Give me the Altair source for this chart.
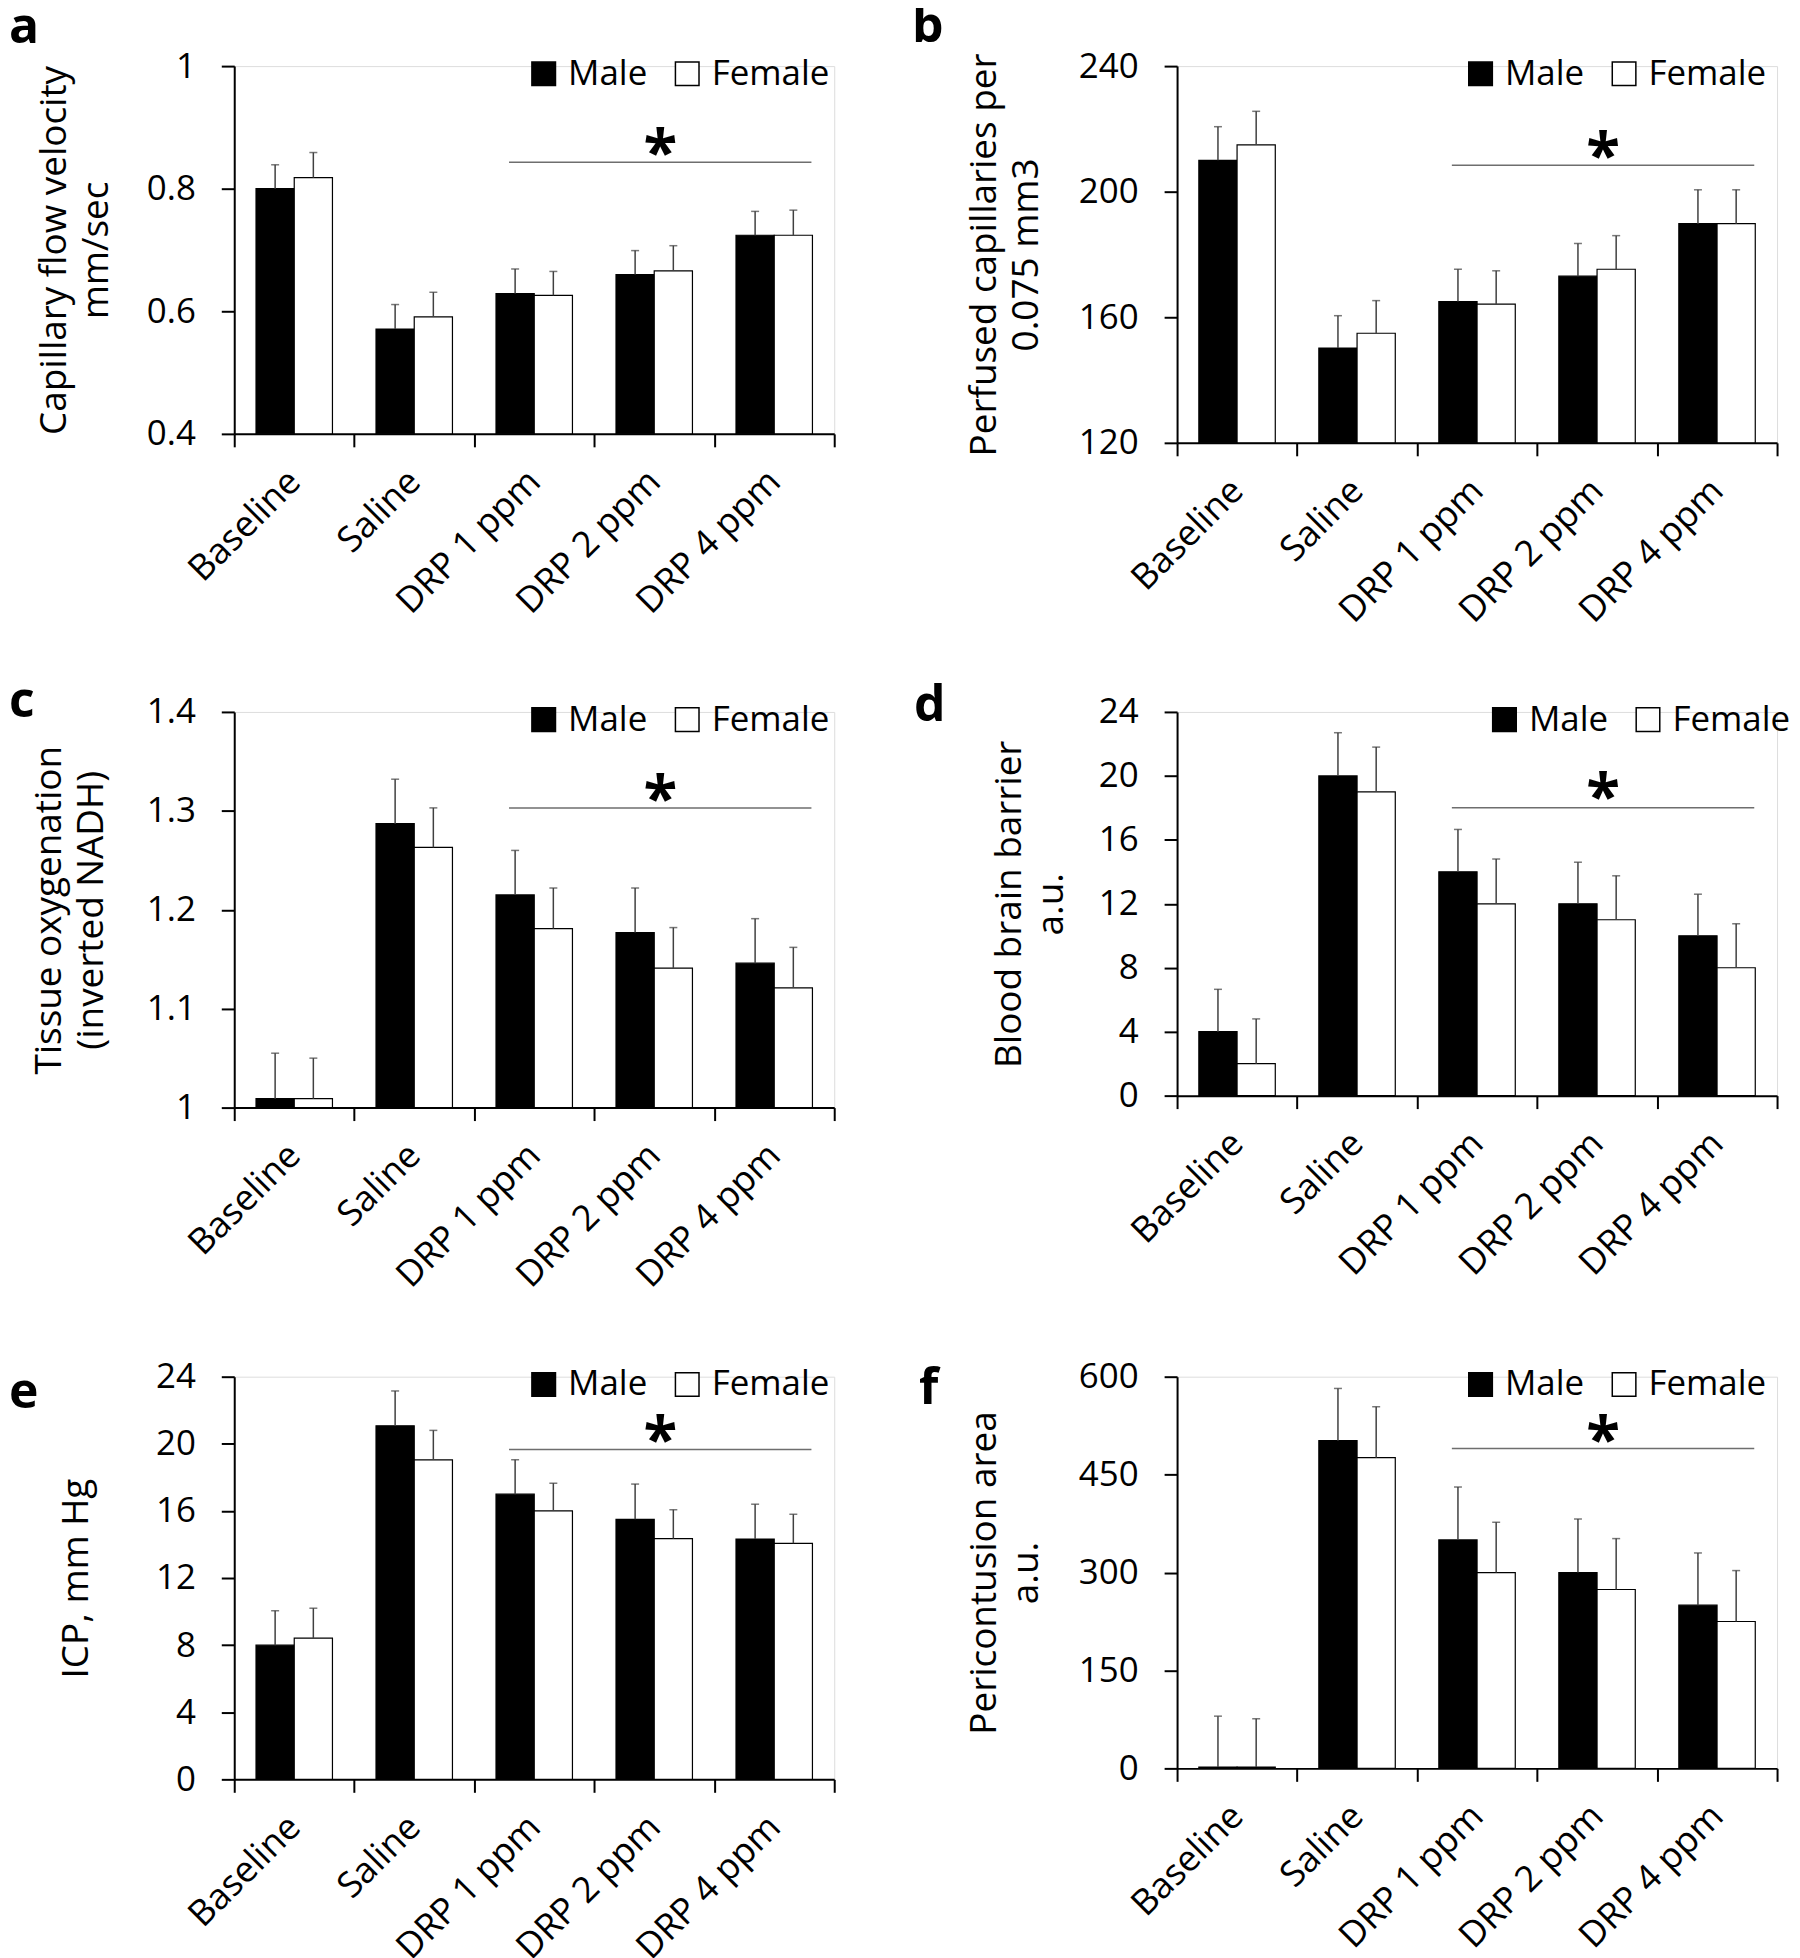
import altair as alt
import pandas as pd

FONT = "Open Sans"

categories = ["Baseline", "Saline", "DRP 1 ppm", "DRP 2 ppm", "DRP 4 ppm"]
sexes = ["Male", "Female"]

# Panel a: capillary flow velocity (mm/sec)
a_male = [0.800, 0.571, 0.629, 0.660, 0.724]
a_female = [0.818, 0.591, 0.626, 0.666, 0.724]
a_male_err = [0.039, 0.040, 0.040, 0.039, 0.039]
a_female_err = [0.041, 0.040, 0.039, 0.041, 0.041]

# Panel b: perfused capillaries per 0.075 mm3
b_male = [210.0, 150.2, 165.0, 173.1, 189.8]
b_female = [214.9, 154.9, 164.2, 175.3, 189.8]
b_male_err = [10.7, 10.3, 10.3, 10.4, 10.8]
b_female_err = [10.7, 10.4, 10.6, 10.7, 10.8]

# Panel c: tissue oxygenation (inverted NADH)
c_male = [1.009, 1.287, 1.215, 1.177, 1.146]
c_female = [1.009, 1.263, 1.181, 1.141, 1.121]
c_male_err = [0.046, 0.045, 0.045, 0.045, 0.045]
c_female_err = [0.041, 0.040, 0.041, 0.041, 0.041]

# Panel d: blood brain barrier (a.u.)
d_male = [4.0, 20.0, 14.0, 12.0, 10.0]
d_female = [2.0, 19.0, 12.0, 11.0, 8.0]
d_male_err = [2.65, 2.7, 2.65, 2.6, 2.6]
d_female_err = [2.8, 2.8, 2.8, 2.75, 2.75]

# Panel e: ICP (mm Hg)
e_male = [8.0, 21.07, 17.0, 15.5, 14.32]
e_female = [8.42, 19.04, 16.0, 14.35, 14.07]
e_male_err = [2.05, 2.08, 2.05, 2.1, 2.08]
e_female_err = [1.78, 1.76, 1.65, 1.72, 1.73]

# Panel f: pericontusion area (a.u.)
f_male = [2, 502, 350, 300, 250]
f_female = [2, 476, 300, 274, 225]
f_male_err = [78, 80, 81, 82, 80]
f_female_err = [74, 78, 77, 78, 78]

# significance bar and star heights (data units)
sig_line_y = {"a": 0.843, "b": 208.4, "c": 1.303, "d": 18.0, "e": 19.66, "f": 490}
sig_star_y = {"a": 0.884, "b": 216.3, "c": 1.328, "d": 19.7, "e": 21.15, "f": 528}


def panel(letter, male, female, male_err, female_err, ymin, ymax, yticks, yfmt, ytitle,
          height, title_pad, letter_dx, letter_offset, legend_x):
    g, s, v, t = [], [], [], []
    for i, c in enumerate(categories):
        for sx, vals, errs in (("Male", male, male_err), ("Female", female, female_err)):
            g.append(c)
            s.append(sx)
            v.append(vals[i])
            t.append(vals[i] + errs[i])
    df = pd.DataFrame({"group": g, "sex": s, "value": v, "top": t})

    xscale = alt.Scale(domain=categories, paddingInner=0, paddingOuter=0)
    xoff = alt.XOffset("sex:N", scale=alt.Scale(domain=sexes, paddingInner=0, paddingOuter=0.57))
    yscale = alt.Scale(domain=[ymin, ymax], nice=False, zero=False)

    xaxis = alt.Axis(
        title=None, labelAngle=-45, labelAlign="right", labelBaseline="middle",
        labelPadding=29, tickBand="extent", labelOverlap=False, labelFlush=False,
        labelLimit=0,
        labelFont=FONT, labelFontSize=36, labelColor="black",
        domainColor="black", domainWidth=2, tickColor="black", tickWidth=2, tickSize=13,
        grid=False,
    )
    yaxis = alt.Axis(
        title=ytitle, values=yticks, format=yfmt, titlePadding=title_pad,
        titleFont=FONT, titleFontSize=37, titleFontWeight="normal", titleColor="black",
        titleLineHeight=42, titleLimit=0,
        labelFont=FONT, labelFontSize=35, labelColor="black", labelPadding=26,
        labelFlush=False, labelOverlap=False, labelLimit=0,
        domainColor="black", domainWidth=2, tickColor="black", tickWidth=2, tickSize=13,
        grid=False,
    )
    legend = alt.Legend(
        title=None, orient="none", legendX=legend_x, legendY=-10, direction="horizontal",
        symbolType="square", symbolSize=560, symbolStrokeColor="black", symbolStrokeWidth=1.5,
        labelFont=FONT, labelFontSize=35, labelColor="black", labelOffset=7, labelLimit=0,
        columnPadding=22, padding=0,
    )

    base = alt.Chart(df)
    bars = base.mark_bar(stroke="black", strokeWidth=1.2).encode(
        x=alt.X("group:N", scale=xscale, axis=xaxis),
        xOffset=xoff,
        y=alt.Y("value:Q", scale=yscale, axis=yaxis),
        y2=alt.datum(ymin),
        color=alt.Color("sex:N", scale=alt.Scale(domain=sexes, range=["black", "white"]),
                        legend=legend),
    )
    err = base.mark_rule(color="#404040", strokeWidth=1.5).encode(
        x=alt.X("group:N", scale=xscale, axis=xaxis),
        xOffset=xoff,
        y=alt.Y("value:Q", scale=yscale, axis=yaxis),
        y2="top:Q",
    )
    caps = base.mark_tick(color="#404040", thickness=1.5, size=8).encode(
        x=alt.X("group:N", scale=xscale, axis=xaxis),
        xOffset=xoff,
        y=alt.Y("top:Q", scale=yscale, axis=yaxis),
    )
    sig_df = pd.DataFrame({"start": ["DRP 1 ppm"], "end": ["DRP 4 ppm"],
                           "y": [sig_line_y[letter]]})
    sig = alt.Chart(sig_df).mark_rule(color="#6e6e6e", strokeWidth=1.5).encode(
        x=alt.X("start:N", scale=xscale, axis=xaxis, bandPosition=0.29),
        x2=alt.X2("end:N", bandPosition=0.81),
        y=alt.Y("y:Q", scale=yscale, axis=yaxis),
    )
    star_df = pd.DataFrame({"group": ["DRP 2 ppm"], "y": [sig_star_y[letter]], "label": ["*"]})
    star = alt.Chart(star_df).mark_text(
        font=FONT, fontSize=62, fontWeight="bold", baseline="alphabetic", dy=36, color="black"
    ).encode(
        x=alt.X("group:N", scale=xscale, axis=xaxis, bandPosition=0.55),
        y=alt.Y("y:Q", scale=yscale, axis=yaxis),
        text="label:N",
    )
    return alt.layer(bars, err, caps, sig, star).properties(
        width=602, height=height,
        title=alt.TitleParams(letter, anchor="start", frame="group", dx=letter_dx,
                              offset=letter_offset, fontSize=50, fontWeight="bold",
                              font=FONT, color="black", orient="top"),
    )


pa = panel("a", a_male, a_female, a_male_err, a_female_err, 0.4, 1.0, [0.4, 0.6, 0.8, 1.0],
           ".1~f", ["Capillary flow velocity", "mm/sec"], 369, 31, -226, -4, 293)
pb = panel("b", b_male, b_female, b_male_err, b_female_err, 120, 240, [120, 160, 200, 240],
           "d", ["Perfused capillaries per", "0.075 mm3"], 378, 33, -266, -3, 287)
pc = panel("c", c_male, c_female, c_male_err, c_female_err, 1.0, 1.4, [1.0, 1.1, 1.2, 1.3, 1.4],
           ".1~f", ["Tissue oxygenation", "(inverted NADH)"], 397, 36, -226, -32, 293)
pd_ = panel("d", d_male, d_female, d_male_err, d_female_err, 0, 24, [0, 4, 8, 12, 16, 20, 24],
            "d", ["Blood brain barrier", "a.u."], 385, 28, -264, -36, 311)
pe = panel("e", e_male, e_female, e_male_err, e_female_err, 0, 24, [0, 4, 8, 12, 16, 20, 24],
           "d", "ICP, mm Hg", 404, 60, -226, -58, 293)
pf = panel("f", f_male, f_female, f_male_err, f_female_err, 0, 600, [0, 150, 300, 450, 600],
           "d", ["Pericontusion area", "a.u."], 393, 33, -259, -54, 287)

chart = alt.concat(
    pa, pb, pc, pd_, pe, pf, columns=2, bounds="flush",
    spacing={"row": 270, "column": 344},
).resolve_scale(color="independent").resolve_legend(color="independent").properties(
    padding={"left": 0, "top": -10, "right": 0, "bottom": 0}, background="white"
).configure_view(strokeWidth=0).configure(font=FONT)

chart.save("out.html", embed_options={"renderer": "svg", "actions": False})
